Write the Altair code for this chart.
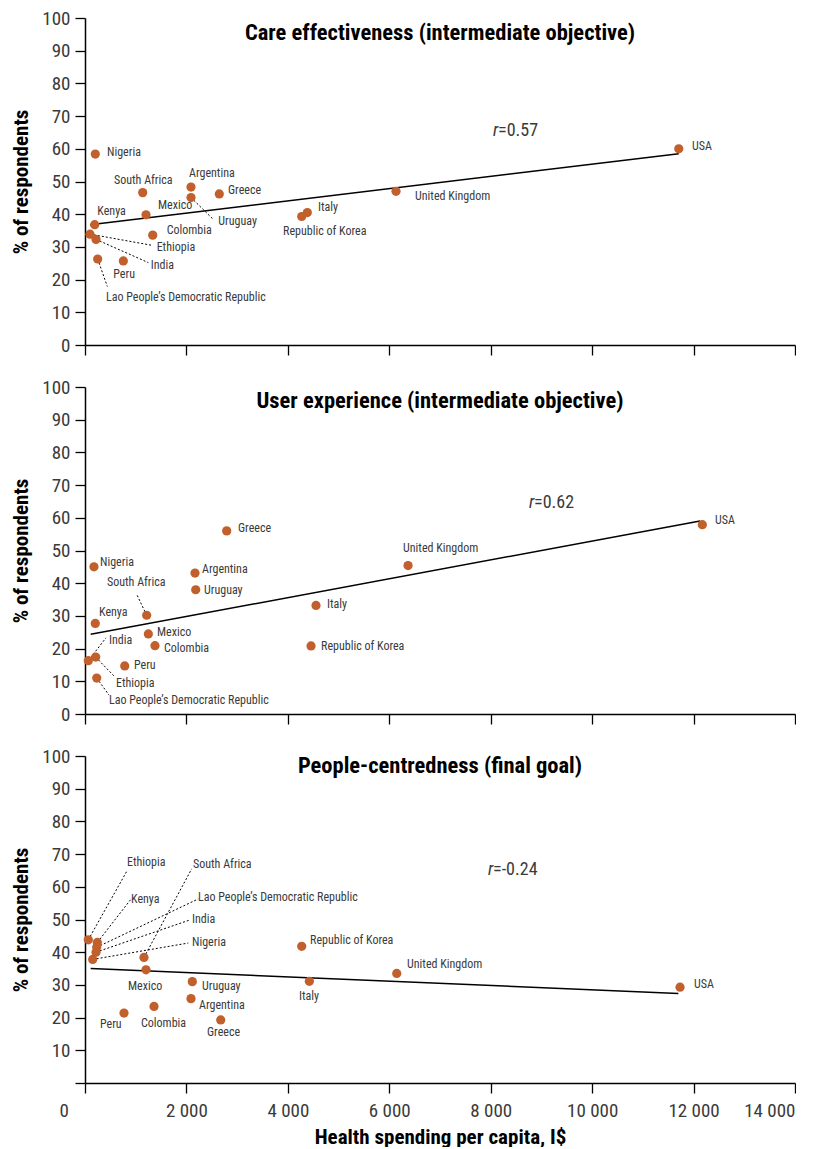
import altair as alt
import pandas as pd

FONT = "Liberation Sans Narrow, Roboto Condensed, DejaVu Sans Condensed, sans-serif"
DOT = "#c1602c"

countries = ["Argentina", "Colombia", "Ethiopia", "Greece", "India", "Italy", "Kenya",
             "Lao People’s Democratic Republic", "Mexico", "Nigeria", "Peru",
             "Republic of Korea", "South Africa", "United Kingdom", "USA", "Uruguay"]

# Panel 1: Care effectiveness
care_x = [2090, 1335, 99, 2648, 217, 4384, 191, 250, 1203, 203, 756, 4273, 1138, 6133, 11708, 2090]
care_y = [48.3, 33.6, 33.9, 46.2, 32.3, 40.5, 36.8, 26.3, 39.8, 58.4, 25.7, 39.3, 46.6, 47.0, 60.0, 45.1]
care_lx = [2051, 1611, 1413, 2820, 1295, 4595, 243, 414, 1440, 434, 558, 3905, 572, 6508, 11970, 2629]
care_ly = [52.6, 35.2, 29.9, 47.5, 24.6, 42.1, 40.9, 14.7, 42.7, 59.1, 21.6, 34.8, 50.6, 45.7, 61.0, 37.8]
care_leaders = {"Uruguay": (2530, 38.4), "Ethiopia": (1315, 30.5), "India": (1249, 25.2),
                "Lao People’s Democratic Republic": (440, 17.9)}
care_fit_x = [99, 11708]
care_fit_y = [36.8, 58.5]

# Panel 2: User experience
user_x = [2169, 1380, 211, 2794, 65, 4555, 203, 231, 1249, 177, 783, 4457, 1216, 6370, 12173, 2183]
user_y = [43.1, 20.9, 17.4, 56.0, 16.3, 33.2, 27.7, 11.0, 24.5, 45.0, 14.7, 20.8, 30.2, 45.4, 57.9, 38.0]
user_lx = [2307, 1558, 611, 3017, 473, 4772, 276, 473, 1420, 296, 966, 4654, 434, 6271, 12424, 2347]
user_ly = [44.3, 20.2, 9.5, 56.9, 22.7, 33.6, 31.2, 4.3, 25.1, 46.6, 15.0, 20.8, 40.4, 50.9, 59.3, 37.9]
user_leaders = {"South Africa": (1019, 36.6), "India": (414, 23.3), "Ethiopia": (592, 11.3),
                "Lao People’s Democratic Republic": (473, 5.8)}
user_fit_x = [112, 12128]
user_fit_y = [24.4, 59.0]

# Panel 3: People-centredness
people_x = [2090, 1361, 65, 2676, 217, 4424, 243, 231, 1203, 152, 769, 4273, 1163, 6147, 11733, 2116]
people_y = [25.8, 23.4, 43.8, 19.3, 40.0, 31.1, 43.0, 41.5, 34.6, 37.8, 21.4, 41.8, 38.4, 33.5, 29.3, 31.0]
people_lx = [2248, 1104, 828, 2406, 2110, 4220, 907, 2228, 848, 2110, 296, 4437, 2130, 6350, 12010, 2307]
people_ly = [24.0, 18.2, 67.7, 15.5, 50.2, 26.6, 56.3, 56.9, 29.8, 43.1, 18.1, 43.7, 67.1, 36.3, 30.2, 29.6]
people_leaders = {"Ethiopia": (822, 64.7), "Kenya": (901, 56.1),
                  "Lao People’s Democratic Republic": (2234, 56.3), "India": (2057, 49.8),
                  "Nigeria": (2037, 42.8), "South Africa": (2104, 65.5)}
people_fit_x = [112, 11700]
people_fit_y = [35.0, 27.4]

titles = ["Care effectiveness (intermediate objective)",
          "User experience (intermediate objective)",
          "People-centredness (final goal)"]
title_offsets = [-35, -34, -30]
r_values = ["=0.57", "=0.62", "=-0.24"]
r_x = [8046, 8756, 7947]
r_y = [65.3, 64.5, 65.0]

x_ticks = [0, 2000, 4000, 6000, 8000, 10000, 12000, 14000]
y_ticks = [0, 10, 20, 30, 40, 50, 60, 70, 80, 90, 100]

xs = alt.Scale(domain=[0, 14000], nice=False)
ys = alt.Scale(domain=[0, 100], nice=False)


def panel(i, px, py, plx, ply, leaders, fx, fy, bottom):
    pts = pd.DataFrame({"country": countries, "x": px, "y": py, "lx": plx, "ly": ply})
    lead = pts[pts["country"].isin(leaders.keys())].copy()
    lead["x2"] = [leaders[c][0] for c in lead["country"]]
    lead["y2"] = [leaders[c][1] for c in lead["country"]]
    fit = pd.DataFrame({"x": [fx[0]], "y": [fy[0]], "x2": [fx[1]], "y2": [fy[1]]})
    rdf = pd.DataFrame({"x": [r_x[i]], "y": [r_y[i]], "t": [r_values[i]]})

    if bottom:
        x_axis = alt.Axis(values=x_ticks, title="Health spending per capita, I$",
                          labelExpr="replace(format(datum.value, ','), ',', ' ')",
                          labelOffset={"condition": {"test": "datum.value == 0", "value": -26}, "value": 0},
                          labelPadding=8, titlePadding=6)
        y_axis = alt.Axis(values=y_ticks, title="% of respondents",
                          labelExpr="datum.value == 0 ? '' : datum.label")
    else:
        x_axis = alt.Axis(values=x_ticks, labels=False, title=None)
        y_axis = alt.Axis(values=y_ticks, title="% of respondents")

    X = lambda f: alt.X(f, scale=xs, axis=x_axis)
    Y = lambda f: alt.Y(f, scale=ys, axis=y_axis)

    fit_l = alt.Chart(fit).mark_rule(color="black", strokeWidth=1.5).encode(
        x=X("x:Q"), y=Y("y:Q"), x2="x2:Q", y2="y2:Q")
    lead_l = alt.Chart(lead).mark_rule(color="black", strokeWidth=1, strokeDash=[2, 2]).encode(
        x=X("x:Q"), y=Y("y:Q"), x2="x2:Q", y2="y2:Q")
    pts_l = alt.Chart(pts).mark_circle(size=85, color=DOT, opacity=1).encode(
        x=X("x:Q"), y=Y("y:Q"))
    lab_l = alt.Chart(pts).mark_text(align="left", baseline="middle", font=FONT,
                                     fontSize=12, color="#3a3a3a").encode(
        x=X("lx:Q"), y=Y("ly:Q"), text="country:N")
    r_l = alt.Chart(rdf).mark_text(align="left", baseline="middle", font=FONT,
                                   fontSize=18, fontStyle="italic", color="#3a3a3a").encode(
        x=X("x:Q"), y=Y("y:Q"), text=alt.value("r"))
    r2_l = alt.Chart(rdf).mark_text(align="left", baseline="middle", font=FONT,
                                    fontSize=18, dx=5, color="#3a3a3a").encode(
        x=X("x:Q"), y=Y("y:Q"), text="t:N")
    return alt.layer(fit_l, lead_l, pts_l, lab_l, r_l, r2_l).properties(
        width=710, height=327,
        title=alt.TitleParams(titles[i], anchor="middle", font=FONT, fontSize=22.5,
                              fontWeight="bold", color="black", offset=title_offsets[i],
                              baseline="top"))


p1 = panel(0, care_x, care_y, care_lx, care_ly, care_leaders, care_fit_x, care_fit_y, False)
p2 = panel(1, user_x, user_y, user_lx, user_ly, user_leaders, user_fit_x, user_fit_y, False)
p3 = panel(2, people_x, people_y, people_lx, people_ly, people_leaders, people_fit_x, people_fit_y, True)

chart = alt.vconcat(p1, p2, p3, spacing=22).properties(
    padding={"left": 2, "top": 1, "right": 0, "bottom": 0}
).configure_view(stroke=None).configure_axis(
    grid=False, domainColor="black", domainWidth=1.5, tickColor="black", tickWidth=1.3,
    tickSize=10, labelFont=FONT, labelFontSize=19, labelColor="#3a3a3a", labelPadding=5,
    titleFont=FONT, titleFontSize=21, titleFontWeight="bold", titleColor="black",
    titlePadding=10
)

chart.save("out.html", embed_options={"renderer": "svg", "actions": False})
